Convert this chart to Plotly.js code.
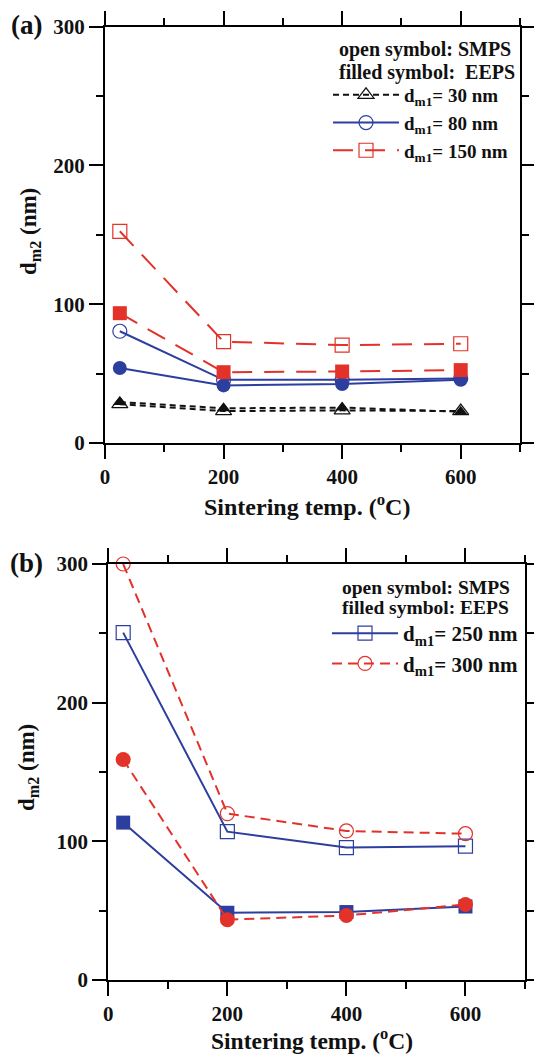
<!DOCTYPE html>
<html>
<head>
<meta charset="utf-8">
<script src="https://cdn.plot.ly/plotly-3.0.1.min.js"></script>
<style>html,body{margin:0;padding:0;background:#fff;} #chart{width:534px;height:1054px;}</style>
</head>
<body>
<div id="chart"></div>
<script>
// ---- data ----
var tempA = [25, 200, 400, 600];
var tempB = [25, 200, 400, 600];

// panel (a)
var a30Smps  = [28, 23, 23.5, 23];
var a30Eeps  = [29.5, 25, 25.5, 22.5];
var a80Smps  = [80.5, 45.5, 45.5, 46.5];
var a80Eeps  = [54, 41.5, 42.5, 45.5];
var a150Smps = [152.5, 73, 70.5, 71.5];
var a150Eeps = [93.5, 51, 51.5, 52.5];

// panel (b)
var b250Smps = [250.5, 107, 95.5, 96.5];
var b250Eeps = [113.5, 48.5, 49, 53];
var b300Smps = [300, 120, 107.5, 105.5];
var b300Eeps = [159, 43.5, 46.5, 54.5];

var legendA = ['d<sub>m1</sub>= 30 nm', 'd<sub>m1</sub>= 80 nm', 'd<sub>m1</sub>= 150 nm'];
var legendB = ['d<sub>m1</sub>= 250 nm', 'd<sub>m1</sub>= 300 nm'];
var xTickVals = [0, 200, 400, 600];
var yTickVals = [0, 100, 200, 300];

var BLUE = '#2d3f9e', RED = '#e2322a', BLACK = '#111111';
var FONT = 'Liberation Serif, Times New Roman, serif';

function tr(x, y, xa, ya, color, dash, sym, size, filled, name, legend, show) {
  return {
    x: x, y: y, xaxis: xa, yaxis: ya, type: 'scatter', mode: 'lines+markers',
    name: name, legend: legend, showlegend: show, cliponaxis: false,
    line: {color: color, width: 2, dash: dash},
    marker: {symbol: sym, size: size, color: color,
             line: {color: color, width: filled ? 0 : 1.2}}
  };
}

var data = [
  tr(tempA, a30Smps, 'x', 'y', BLACK, '6px,4px', 'triangle-up-open', 14, false, legendA[0], 'legend', true),
  tr(tempA, a80Smps, 'x', 'y', BLUE, 'solid', 'circle-open', 14, false, legendA[1], 'legend', true),
  tr(tempA, a150Smps, 'x', 'y', RED, '20px,12px', 'square-open', 14, false, legendA[2], 'legend', true),
  tr(tempA, a30Eeps, 'x', 'y', BLACK, '6px,4px', 'triangle-up', 12, true, legendA[0], 'legend', false),
  tr(tempA, a80Eeps, 'x', 'y', BLUE, 'solid', 'circle', 14, true, legendA[1], 'legend', false),
  tr(tempA, a150Eeps, 'x', 'y', RED, '20px,12px', 'square', 14, true, legendA[2], 'legend', false),

  tr(tempB, b250Smps, 'x2', 'y2', BLUE, 'solid', 'square-open', 14, false, legendB[0], 'legend2', true),
  tr(tempB, b300Smps, 'x2', 'y2', RED, '10px,6px', 'circle-open', 14, false, legendB[1], 'legend2', true),
  tr(tempB, b250Eeps, 'x2', 'y2', BLUE, 'solid', 'square', 14, true, legendB[0], 'legend2', false),
  tr(tempB, b300Eeps, 'x2', 'y2', RED, '10px,6px', 'circle', 15, true, legendB[1], 'legend2', false)
];

function xax(domain, anchor) {
  return {
    domain: domain, anchor: anchor, range: [0, 700], fixedrange: true,
    tickmode: 'array', tickvals: xTickVals, ticks: 'outside', ticklen: 14, tickwidth: 2,
    tickcolor: '#000', showline: true, linewidth: 2, linecolor: '#000', mirror: 'ticks',
    showgrid: false, zeroline: false, automargin: false,
    tickfont: {family: FONT, size: 21, color: '#111', weight: 'bold'},
    minor: {dtick: 100, tick0: 0, ticks: 'outside', ticklen: 7, tickwidth: 2, tickcolor: '#000', showgrid: false}
  };
}
function yax(domain, anchor) {
  return {
    domain: domain, anchor: anchor, range: [0, 300], fixedrange: true,
    tickmode: 'array', tickvals: yTickVals, ticks: 'outside', ticklen: 14, tickwidth: 2,
    tickcolor: '#000', showline: true, linewidth: 2, linecolor: '#000', mirror: 'ticks',
    showgrid: false, zeroline: false, automargin: false,
    tickfont: {family: FONT, size: 21, color: '#111', weight: 'bold'},
    minor: {dtick: 50, tick0: 0, ticks: 'outside', ticklen: 7, tickwidth: 2, tickcolor: '#000', showgrid: false}
  };
}

var W = 534, H = 1054;
function px(x) { return x / W; }
function py(y) { return 1 - y / H; }

var ann = function (text, x, y, size, opts) {
  var a = {text: text, x: px(x), y: py(y), xref: 'paper', yref: 'paper', showarrow: false,
           xanchor: 'center', yanchor: 'middle',
           font: {family: FONT, size: size, color: '#111', weight: 'bold'}};
  for (var k in (opts || {})) a[k] = opts[k];
  return a;
};

var layout = {
  width: W, height: H, margin: {l: 0, r: 0, t: 0, b: 0},
  paper_bgcolor: '#fff', plot_bgcolor: '#fff',
  font: {family: FONT, color: '#111'},
  xaxis: xax([px(105), px(520)], 'y'),
  yaxis: yax([py(443), py(26.5)], 'x'),
  xaxis2: xax([px(108.3), px(525)], 'y2'),
  yaxis2: yax([py(980), py(564)], 'x2'),
  legend: {x: px(328), y: py(76), xanchor: 'left', yanchor: 'top', bgcolor: 'rgba(0,0,0,0)',
           font: {family: FONT, size: 19, color: '#111', weight: 'bold'}, tracegroupgap: 0,
           itemwidth: 66},
  legend2: {x: px(327), y: py(613), xanchor: 'left', yanchor: 'top', bgcolor: 'rgba(0,0,0,0)',
           font: {family: FONT, size: 21, color: '#111', weight: 'bold'}, tracegroupgap: 0,
           itemwidth: 66},
  annotations: [
    ann('(a)', 26, 25.5, 27),
    ann('(b)', 26, 563, 27),
    ann('open symbol: SMPS', 337, 49, 20, {xanchor: 'left'}),
    ann('filled symbol:  EEPS', 337, 73, 20, {xanchor: 'left'}),
    ann('open symbol: SMPS', 340, 587, 19.5, {xanchor: 'left'}),
    ann('filled symbol: EEPS', 340, 607, 19.5, {xanchor: 'left'}),
    ann('d<sub>m2</sub> (nm)', 30, 232, 23, {textangle: -90}),
    ann('d<sub>m2</sub> (nm)', 28, 768, 23, {textangle: -90}),
    ann('Sintering temp. (<sup>o</sup>C)', 307, 505, 24),
    ann('Sintering temp. (<sup>o</sup>C)', 311.6, 1039, 23.5)
  ]
};

Plotly.newPlot('chart', data, layout, {displayModeBar: false, staticPlot: true});
</script>
</body>
</html>
